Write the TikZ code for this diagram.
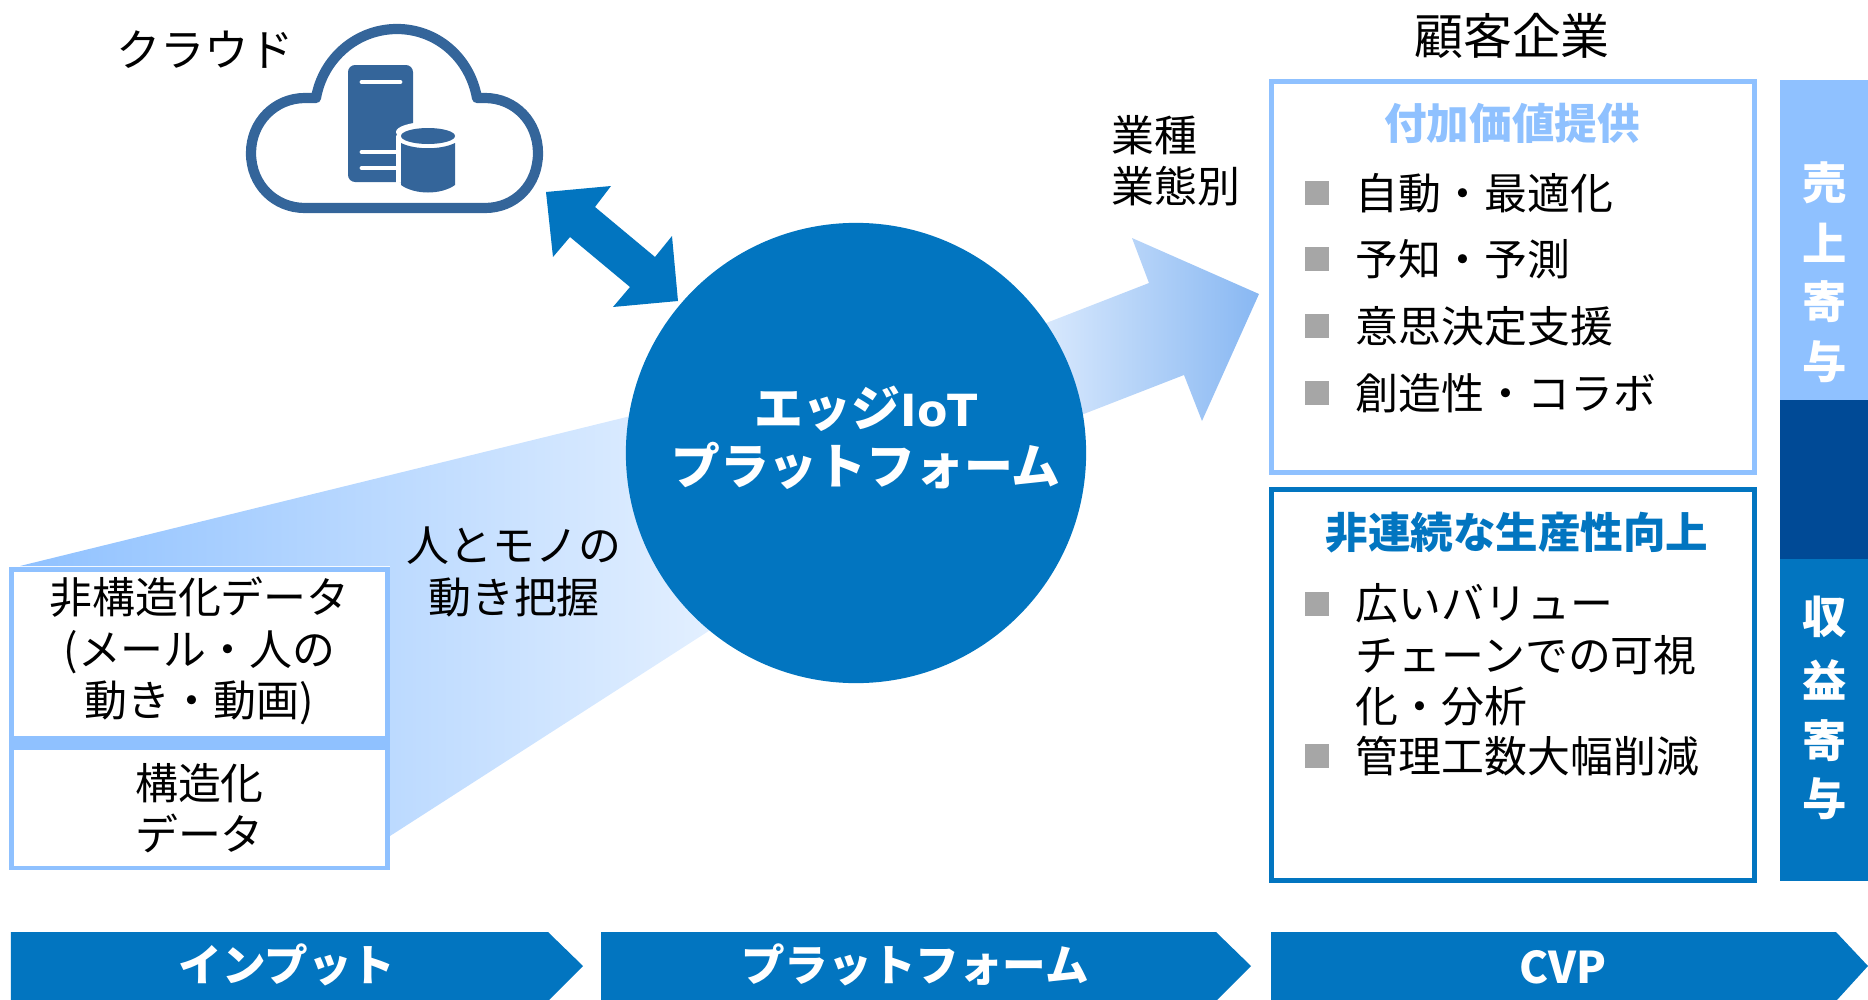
\documentclass[tikz,border=0pt]{standalone}
\usepackage{fontspec}
\setmainfont{Noto Sans CJK JP}
\newfontfamily\latinbold{DejaVu Sans}
\usetikzlibrary{positioning}

\definecolor{edgeblue}{HTML}{0275C0}
\definecolor{edgelight}{HTML}{8FC1FF}
\definecolor{edgedark}{HTML}{004A96}
\definecolor{edgecloud}{HTML}{34659A}
\definecolor{edgegray}{HTML}{A6A6A6}

\tikzset{
  base text/.style={font=\fontsize{12.2}{14.6}\selectfont, inner sep=0pt, align=center},
  bold text/.style={font=\fontsize{12.1}{14.6}\selectfont\bfseries, inner sep=0pt, align=center},
  data box/.style={draw=edgelight, line width=1.4pt, fill=white, minimum width=3.76cm, base text},
  value box/.style={line width=1.4pt, minimum width=4.82cm, minimum height=3.9cm},
  square mark/.style={fill=edgegray, minimum size=0.24cm, inner sep=0pt},
  item text/.style={base text, align=left, anchor=west},
  side text/.style={inner sep=0pt, text=white, font=\fontsize{12.6}{14.6}\selectfont\bfseries},
  step bar/.style={fill=edgeblue},
  step text/.style={inner sep=0pt, text=white, font=\fontsize{12.4}{14.6}\selectfont\bfseries}
}

\begin{document}
\begin{tikzpicture}[x=0.01cm,y=-0.01cm]
  \useasboundingbox (0,0) rectangle (1868,1000);

  % flows behind the circle
  \shade[left color=edgelight, right color=edgelight!20!white] (20,566)--(700,399)--(760,598)--(390,836)--(390,566)--cycle;
  \shade[left color=edgelight!20!white, right color=edgelight!95!black] (1000,341)--(1149,283)--(1132,238)--(1259,294)--(1202,421)--(1184,375)--(1040,431)--cycle;
  \fill[edgelight] (9,738) rectangle (390,750);

  % double arrow
  \fill[edgeblue] (546,192)--(611,186)--(595,207)--(655,257)--(672,236)--(678,301)--(613,307)--(630,287)--(570,237)--(553,257)--cycle;

  \node[circle, fill=edgeblue, minimum size=4.6cm, inner sep=0pt] (platform) at (856,453) {};
  \node[inner sep=0pt, align=center, text=white, font=\fontsize{13.9}{16.5}\selectfont\bfseries] (platformtext) at (866,438) {エッジ{\latinbold\fontsize{12.6}{16.5}\selectfont IoT}\\プラットフォーム};

  % cloud
  \draw[edgecloud, line width=2.9pt, line join=round] (316,98) .. controls (323,58) and (357,29) .. (397,29) .. controls (437,29) and (470,58) .. (477,98) -- (485,98) .. controls (515,98) and (538,122) .. (538,153) .. controls (538,185) and (515,208) .. (485,208) -- (305,208) .. controls (275,208) and (251,185) .. (251,153) .. controls (251,122) and (275,98) .. (305,98) -- cycle;
  \fill[edgecloud, rounded corners=2pt] (348,65) rectangle (413,182);
  \draw[white, line width=1.4pt, line cap=round] (362,82)--(400,82);
  \draw[white, line width=1.4pt, line cap=round] (362,152)--(400,152);
  \draw[white, line width=1.4pt, line cap=round] (362,168)--(400,168);
  \fill[white] (396,137) arc (180:360:32 and 10) -- (460,187) arc (0:-180:32 and 10) -- cycle;
  \fill[white] (428,132) ellipse (32 and 10);
  \fill[edgecloud] (401,143) .. controls (415,150) and (441,150) .. (455,143) -- (455,185) .. controls (441,195) and (415,195) .. (401,185) -- cycle;
  \fill[edgecloud] (428,136) ellipse (27 and 8);
  \node[base text, font=\fontsize{12.6}{14.6}\selectfont] (cloudtext) at (205,50) {クラウド};

  % input boxes
  \node[data box, minimum height=1.68cm] (unstructured) at (199.5,654) {};
  \node[base text] (unstructuredtext) at (199.5,651) {非構造化データ\\(メール・人の\\動き・動画)};
  \node[data box, minimum height=1.2cm] (structured) at (199.5,808) {構造化\\データ};
  \node[base text] (movetext) at (514,572) {人とモノの\\動き把握};
  \node[base text, align=left, anchor=west] (kindtext) at (1111,161) {業種\\業態別};

  % right side
  \node[base text, font=\fontsize{13.9}{16}\selectfont] (customer) at (1512,36) {顧客企業};
  \node[draw=edgelight, value box] (valuebox) at (1513,277) {};
  \node[draw=edgeblue, value box] (gainbox) at (1513,685) {};
  \node[bold text, text=edgelight] (valuetitle) at (1512,123) {付加価値提供};
  \node[bold text, text=edgeblue] (gaintitle) at (1517,533) {非連続な生産性向上};

  \node[square mark] (m1) at (1317,193) {};
  \node[square mark] (m2) at (1317,259) {};
  \node[square mark] (m3) at (1317,326) {};
  \node[square mark] (m4) at (1317,393) {};
  \node[item text] (t1) at (1355,193) {自動・最適化};
  \node[item text] (t2) at (1355,259) {予知・予測};
  \node[item text] (t3) at (1355,326) {意思決定支援};
  \node[item text] (t4) at (1355,393) {創造性・コラボ};

  \node[square mark] (m5) at (1317,604) {};
  \node[square mark] (m6) at (1317,756) {};
  \node[item text] (t5) at (1355,655) {広いバリュー\\チェーンでの可視\\化・分析};
  \node[item text] (t6) at (1355,756) {管理工数大幅削減};

  % side bar
  \fill[edgelight] (1780,80) rectangle (1868,400);
  \fill[edgedark] (1780,400) rectangle (1868,559);
  \fill[edgeblue] (1780,559) rectangle (1868,881);
  \node[side text] (s1) at (1825,183) {売};
  \node[side text] (s2) at (1825,243) {上};
  \node[side text] (s3) at (1825,302) {寄};
  \node[side text] (s4) at (1825,362) {与};
  \node[side text] (s5) at (1825,617) {収};
  \node[side text] (s6) at (1825,680) {益};
  \node[side text] (s7) at (1825,741) {寄};
  \node[side text] (s8) at (1825,799) {与};

  % bottom bars
  \fill[step bar] (11,932)--(548,932)--(583,966)--(549,1000)--(11,1000)--cycle;
  \fill[step bar] (601,932)--(1216,932)--(1251,966)--(1217,1000)--(601,1000)--cycle;
  \fill[step bar] (1271,932)--(1836,932)--(1868,966)--(1837,1000)--(1271,1000)--cycle;
  \node[step text] (input) at (287,965) {インプット};
  \node[step text] (platformstep) at (915,965) {プラットフォーム};
  \node[step text] (cvp) at (1563,967) {CVP};
\end{tikzpicture}
\end{document}
